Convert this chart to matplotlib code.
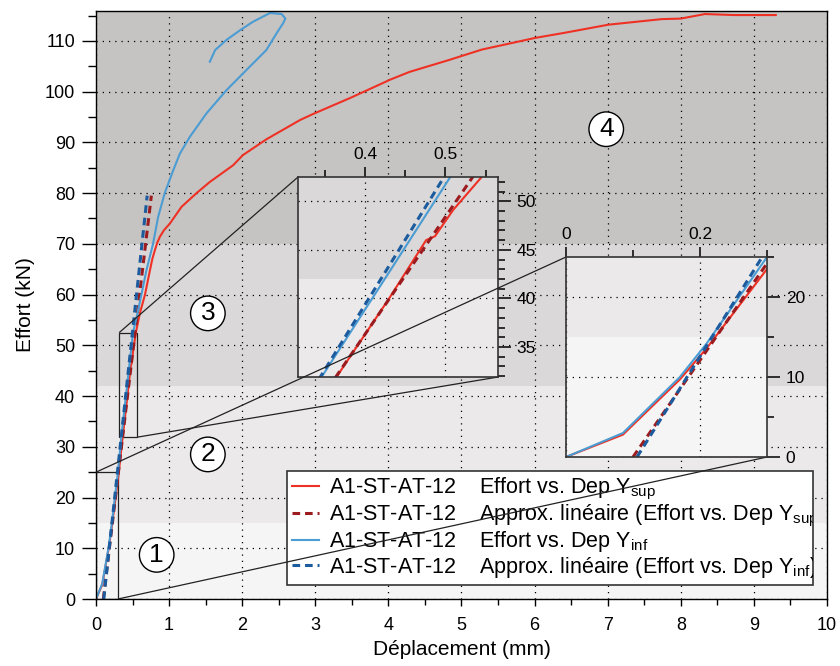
import matplotlib
matplotlib.use("Agg")
import matplotlib.pyplot as plt
from matplotlib.ticker import MultipleLocator, FuncFormatter
from matplotlib.transforms import Bbox, TransformedBbox
from mpl_toolkits.axes_grid1.inset_locator import mark_inset

plt.rcParams['font.family'] = ['Liberation Sans', 'DejaVu Sans']
plt.rcParams['mathtext.default'] = 'regular'

# Effort vs. Dep Y_sup (mesure)
sup_x = [0, 0.085, 0.17, 0.21, 0.25, 0.30, 0.3645, 0.43, 0.476, 0.487, 0.5095,
         0.545, 0.60, 0.67, 0.738, 0.77, 0.806, 0.84, 0.874, 0.93, 1.01, 1.17,
         1.375, 1.557, 1.876, 2.01, 2.33, 2.79, 2.97, 3.5, 4.03, 4.29, 4.82,
         5.28, 6.01, 6.41, 7.01, 7.74, 8.0, 8.33, 8.73, 9.3]
sup_y = [0, 2.8, 9.7, 13.6, 18.0, 23.5, 31.9, 40.0, 46.0, 46.4, 49.1,
         52.5, 56.3, 60.0, 64.8, 67.0, 68.8, 70.3, 71.4, 72.7, 74.0, 77.3,
         80.0, 82.2, 85.5, 87.5, 90.6, 94.4, 95.6, 98.9, 102.4, 103.9, 106.2,
         108.3, 110.6, 111.6, 113.2, 114.3, 114.4, 115.3, 115.1, 115.1]

# Effort vs. Dep Y_inf (mesure)
inf_x = [0, 0.085, 0.17, 0.21, 0.25, 0.30, 0.346, 0.43, 0.506, 0.556, 0.62,
         0.69, 0.78, 0.85, 0.94, 1.056, 1.148, 1.284, 1.51, 1.785, 2.06, 2.33,
         2.47, 2.56, 2.59, 2.54, 2.38, 2.15, 1.97, 1.785, 1.63, 1.557]
inf_y = [0, 3.0, 10.0, 14.2, 19.0, 25.0, 31.9, 42.7, 52.5, 55.6, 59.9,
         64.8, 70.0, 75.3, 80.0, 84.5, 87.8, 91.1, 95.7, 100.3, 104.3, 108.2,
         111.5, 113.5, 114.4, 115.3, 115.5, 113.8, 112.1, 110.2, 108.2, 105.9]

# approximations linéaires
lin_sup_x = [0.10, 0.757]
lin_sup_y = [0, 79.5]
lin_inf_x = [0.106, 0.70]
lin_inf_y = [0, 79.5]

# zones
zone_bounds = [0, 15, 42, 70, 116]
zone_colors = ['#f5f5f5', '#ebe9ea', '#dad8d9', '#c5c4c3']
zone_names = ['1', '2', '3', '4']
zone_x = [0.83, 1.53, 1.53, 6.98]
zone_y = [8.7, 28.5, 56.3, 92.6]

serie = 'A1-ST-AT-12'
labels = [serie + '    Effort vs. Dep Y$_{sup}$',
          serie + '    Approx. linéaire (Effort vs. Dep Y$_{sup}$)',
          serie + '    Effort vs. Dep Y$_{inf}$',
          serie + '    Approx. linéaire (Effort vs. Dep Y$_{inf}$)']

c_sup = '#ee3124'
c_sup_lin = '#9b1b1f'
c_inf = '#4b9cd3'
c_inf_lin = '#1b5b9e'

grid_style = dict(linestyle=(0, (1, 4)), color='k', lw=0.9)


def trace(a):
    for lo, hi, c in zip(zone_bounds[:-1], zone_bounds[1:], zone_colors):
        a.axhspan(lo, hi, color=c, lw=0, zorder=0)
    h1, = a.plot(sup_x, sup_y, color=c_sup, lw=1.5)
    h2, = a.plot(lin_sup_x, lin_sup_y, color=c_sup_lin, lw=2.2, dashes=(2.5, 1.6))
    h3, = a.plot(inf_x, inf_y, color=c_inf, lw=1.5)
    h4, = a.plot(lin_inf_x, lin_inf_y, color=c_inf_lin, lw=2.2, dashes=(2.5, 1.6))
    a.set_axisbelow(True)
    a.grid(True, which='major', **grid_style)
    return [h1, h2, h3, h4]


fig = plt.figure(figsize=(8.4, 6.66), dpi=100)
ax = fig.add_axes([0.1143, 0.1006, 0.8702, 0.8829])
handles = trace(ax)
ax.set_xlim(0, 10)
ax.set_ylim(0, 115.9)
ax.xaxis.set_major_locator(MultipleLocator(1))
ax.xaxis.set_minor_locator(MultipleLocator(0.5))
ax.yaxis.set_major_locator(MultipleLocator(10))
ax.yaxis.set_minor_locator(MultipleLocator(5))
ax.tick_params(axis='x', which='major', length=5.2, width=1, labelsize=13, pad=8)
ax.tick_params(axis='x', which='minor', length=4, width=1)
ax.tick_params(axis='y', which='major', length=10, width=1, labelsize=13, pad=5)
ax.tick_params(axis='y', which='minor', length=6, width=1)
for s in ax.spines.values():
    s.set_linewidth(1)
ax.set_xlabel('Déplacement (mm)', fontsize=15, labelpad=4)
ax.set_ylabel('Effort (kN)', fontsize=15, labelpad=7)

for n, x, y in zip(zone_names, zone_x, zone_y):
    ax.text(x, y, n, fontsize=19, ha='center', va='center', zorder=3,
            bbox=dict(boxstyle='circle,pad=0.2', fc='white', ec='k', lw=1))

fmt = FuncFormatter(lambda v, _: f'{v:g}')


def inset(rect, xlim, ylim, xmaj, xmin, ymaj, ymin):
    a = fig.add_axes(rect)
    trace(a)
    a.set_xlim(*xlim)
    a.set_ylim(*ylim)
    a.xaxis.tick_top()
    a.yaxis.tick_right()
    a.xaxis.set_major_locator(MultipleLocator(xmaj))
    a.xaxis.set_minor_locator(MultipleLocator(xmin))
    a.yaxis.set_major_locator(MultipleLocator(ymaj))
    a.yaxis.set_minor_locator(MultipleLocator(ymin))
    a.xaxis.set_major_formatter(fmt)
    a.yaxis.set_major_formatter(fmt)
    a.tick_params(axis='x', which='major', length=7, width=1.1, labelsize=12.5, pad=4)
    a.tick_params(axis='x', which='minor', length=5, width=1.1)
    a.tick_params(axis='y', which='major', length=9.5, width=1.1, labelsize=12.5, pad=4)
    a.tick_params(axis='y', which='minor', length=5, width=1.1)
    for s in a.spines.values():
        s.set_linewidth(1.2)
        s.set_color('#333333')
    mark_inset(ax, a, loc1=2, loc2=4, fc='none', ec='#222222', lw=0.9)
    return a


ins1 = inset([0.3548, 0.4339, 0.2381, 0.3003], (0.3167, 0.5654), (31.9, 52.5),
             0.1, 0.05, 5, 1)
ins2 = inset([0.6738, 0.3138, 0.2393, 0.3003], (0, 0.3), (0, 25),
             0.2, 0.1, 10, 5)

leg = ax.legend(handles, labels, loc='lower left',
                bbox_to_anchor=(0.261, 0.024, 0.72, 0.19), mode='expand',
                fontsize=15.5, handlelength=1.25, handletextpad=0.45,
                borderpad=0.25, labelspacing=0.02, borderaxespad=0,
                fancybox=False, edgecolor='#333333', framealpha=1)
leg.get_frame().set_linewidth(1.2)
leg.set_zorder(5)
clip = TransformedBbox(Bbox([[0.261, 0.0], [0.981, 1.0]]), ax.transAxes)
for t in leg.get_texts():
    t.set_clip_box(clip)
    t.set_clip_on(True)

fig.savefig('out.png', dpi=100)
